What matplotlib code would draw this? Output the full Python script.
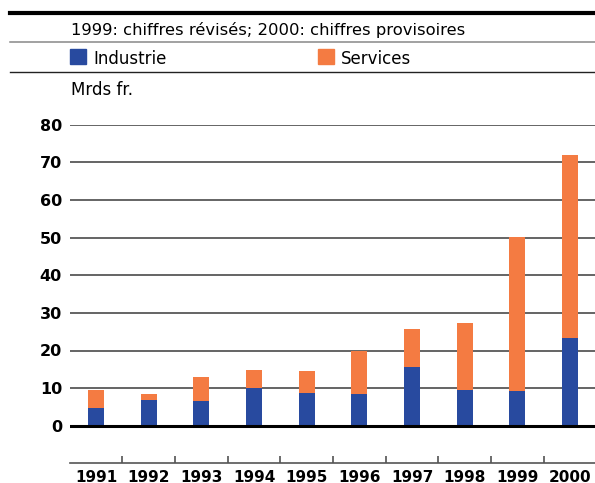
import matplotlib.pyplot as plt
from matplotlib.lines import Line2D
from matplotlib.patches import Rectangle
import numpy as np

# Données (Mrds fr.)
years = ["1991", "1992", "1993", "1994", "1995", "1996", "1997", "1998", "1999", "2000"]
industrie = [4.8, 6.9, 6.6, 10.1, 8.8, 8.5, 15.7, 9.6, 9.3, 23.4]
services = [4.8, 1.6, 6.4, 4.8, 5.8, 11.5, 10.1, 17.8, 40.8, 48.7]

blue = "#284a9f"
orange = "#f47b42"

W, H = 595, 483
fig = plt.figure(figsize=(W / 100, H / 100), dpi=100)


def fx(px):
    return px / W


def fy(py):
    return (H - py) / H


# Axes: x from 70 px to right edge, y from bottom line (463 px) to 80 (125 px)
ax = fig.add_axes([fx(70), fy(463.3), 1 - fx(70), fy(124.9) - fy(463.3)])

x = np.arange(len(years))
ax.bar(x, industrie, width=0.3, color=blue, zorder=2)
ax.bar(x, services, width=0.3, bottom=industrie, color=orange, zorder=2)

ax.set_xlim(-0.494, 9.474)
ax.set_ylim(-10, 80)

# horizontal grid lines
for v in range(10, 90, 10):
    ax.axhline(v, color="#3a3a3a", lw=1.1, zorder=1)
ax.axhline(0, color="black", lw=2.2, zorder=3)

ax.set_yticks(range(0, 90, 10))
ax.tick_params(axis="y", length=0, pad=5.8, labelsize=11.5)
for lab in ax.get_yticklabels():
    lab.set_fontweight("bold")

ax.set_xticks(x)
ax.set_xticklabels(years, fontsize=11, fontweight="bold")
ax.set_xticks(x[:-1] + 0.5, minor=True)
ax.tick_params(axis="x", which="major", length=0, pad=4.5)
ax.tick_params(axis="x", which="minor", direction="in", length=5,
               width=1.1, color="#444444")

for s in ["left", "right", "top"]:
    ax.spines[s].set_visible(False)
ax.spines["bottom"].set_color("#555555")
ax.spines["bottom"].set_linewidth(1.2)

# En-tête
fig.add_artist(Line2D([fx(10), 1], [fy(12.7), fy(12.7)], color="black", lw=3.0))
fig.add_artist(Line2D([fx(10), 1], [fy(42.3), fy(42.3)], color="#888888", lw=1.1))
fig.add_artist(Line2D([fx(10), 1], [fy(72), fy(72)], color="#222222", lw=1.0))

fig.text(fx(71), fy(35), "1999: chiffres révisés; 2000: chiffres provisoires",
         fontsize=11.8, va="baseline", ha="left")

fig.add_artist(Rectangle((fx(70), fy(64)), fx(16), 15 / H, color=blue))
fig.text(fx(93), fy(64), "Industrie", fontsize=12, va="baseline", ha="left")
fig.add_artist(Rectangle((fx(318), fy(64)), fx(16), 15 / H, color=orange))
fig.text(fx(341), fy(64), "Services", fontsize=12, va="baseline", ha="left")

fig.text(fx(71), fy(95), "Mrds fr.", fontsize=12, va="baseline", ha="left")

fig.savefig("out.png", dpi=100)
